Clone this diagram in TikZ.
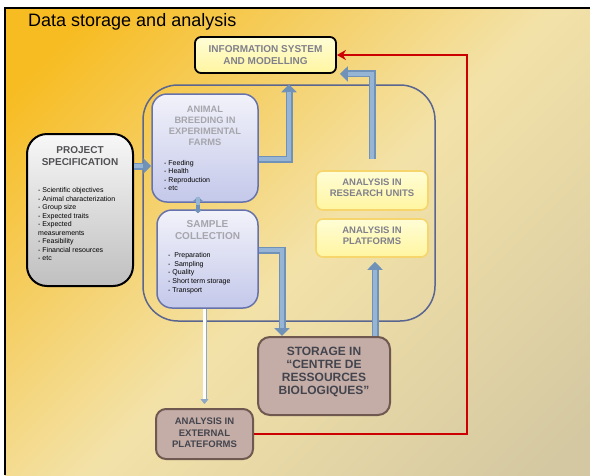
\documentclass[tikz,border=0pt]{standalone}
\usepackage{fontspec}
\setmainfont{Liberation Sans}
\usepackage{tikz}
\usetikzlibrary{arrows.meta, positioning, calc}

\definecolor{orange1}{RGB}{247, 188, 34}
\definecolor{cream1}{RGB}{243, 226, 168}
\definecolor{beige1}{RGB}{212, 200, 162}
\definecolor{grey1}{RGB}{128, 128, 140}
\definecolor{grey2}{RGB}{165, 165, 172}
\definecolor{grey3}{RGB}{80, 80, 84}
\definecolor{grey4}{RGB}{68, 68, 78}
\definecolor{lilac1}{RGB}{242, 242, 250}
\definecolor{lilac2}{RGB}{196, 200, 234}
\definecolor{lilac3}{RGB}{102, 114, 172}
\definecolor{slate1}{RGB}{90, 102, 144}
\definecolor{yellow1}{RGB}{255, 253, 214}
\definecolor{yellow2}{RGB}{255, 245, 160}
\definecolor{yellow3}{RGB}{246, 214, 108}
\definecolor{taupe1}{RGB}{195, 173, 166}
\definecolor{taupe2}{RGB}{110, 88, 80}
\definecolor{steel1}{RGB}{112, 146, 184}
\definecolor{steel2}{RGB}{150, 180, 212}
\definecolor{red1}{RGB}{204, 0, 0}

\tikzset{
  infobox/.style={draw=black, line width=1.8pt, top color=yellow1, bottom color=yellow2,
    rounded corners=6pt, inner sep=0pt},
  unitbox/.style={draw=yellow3, line width=1.6pt, top color=yellow1, bottom color=yellow2,
    rounded corners=7pt, inner sep=0pt, minimum width=112pt},
  labbox/.style={draw=lilac3, line width=1.5pt, top color=lilac1, bottom color=lilac2,
    rounded corners=15pt, inner sep=0pt},
  specbox/.style={draw=black, line width=2pt, top color=gray!6, bottom color=gray!50,
    rounded corners=20pt, inner sep=0pt},
  storebox/.style={draw=taupe2, line width=2pt, fill=taupe1, rounded corners=12pt, inner sep=0pt},
  boxtitle/.style 2 args={font=\bfseries\fontsize{#1}{#2}\selectfont, align=center, inner sep=0pt},
  boxlist/.style={font=\fontsize{7}{8.6}\selectfont, align=left, inner sep=0pt, anchor=west},
  flowarrow/.style={draw=steel1, line width=7pt, -{Triangle[width=15pt, length=8pt]},
    postaction={draw=steel2, line width=3.5pt, arrows=-, shorten >=8pt}},
  thinarrow/.style={draw=steel1!80, line width=0.8pt, double=white, double distance=2.4pt,
    -{Triangle[width=8pt, length=5pt]}},
  redline/.style={draw=red1, line width=2.5pt, -{Stealth[width=10pt, length=9pt]}}
}

\begin{document}
\begin{tikzpicture}[x=1pt, y=-1pt]
  \useasboundingbox (0,0) rectangle (590,475);
  % background and frame
  \begin{scope}
    \clip (5,8) rectangle (590,475);
    \shade[top color=orange1, bottom color=beige1, middle color=cream1, shading angle=45]
      (-30,-60) rectangle (620,590);
  \end{scope}
  \draw[line width=2pt] (5,475) -- (5,8) -- (590,8);
  \node[anchor=west, inner sep=0pt, font=\fontsize{18}{20}\selectfont] (title) at (28,22)
    {Data storage and analysis};

  % boxes
  \node[infobox, minimum width=141pt, minimum height=36pt] (info) at (265.5,55) {};
  \node[boxtitle={10}{11.7}, text=grey1] (infotext) at (265.5,55) {INFORMATION SYSTEM\\AND MODELLING};

  \node[draw=slate1, line width=1.5pt, rounded corners=35pt, inner sep=0pt,
    minimum width=292pt, minimum height=236pt] (lab) at (289,203) {};

  \node[specbox, minimum width=106pt, minimum height=152pt] (spec) at (80,210) {};
  \node[boxtitle={10}{11.7}, text=grey3] (spectitle) at (80,156) {PROJECT\\SPECIFICATION};
  \node[boxlist, font=\fontsize{7}{8.5}\selectfont] (speclist) at (38,224)
    {- Scientific objectives\\- Animal characterization\\- Group size\\- Expected traits\\
     - Expected\\measurements\\- Feasibility\\- Financial resources\\- etc};

  \node[labbox, minimum width=106pt, minimum height=108pt] (breed) at (205,148) {};
  \node[boxtitle={9.3}{11}, text=grey2] (breedtitle) at (205,125.5)
    {ANIMAL\\BREEDING IN\\EXPERIMENTAL\\FARMS};
  \node[boxlist] (breedlist) at (164,175.5) {- Feeding\\- Health\\- Reproduction\\- etc};

  \node[labbox, minimum width=101pt, minimum height=98pt] (sample) at (207.5,259) {};
  \node[boxtitle={10}{11.7}, text=grey2] (sampletitle) at (207.5,230) {SAMPLE\\COLLECTION};
  \node[boxlist, font=\fontsize{7}{8.8}\selectfont] (samplelist) at (168,273)
    {-~ Preparation\\-~ Sampling\\- Quality\\- Short term storage\\- Transport};

  \node[unitbox, minimum height=39pt] (units) at (372,190.5) {};
  \node[boxtitle={9.5}{11}, text=grey1] (unitstext) at (372,188) {ANALYSIS IN\\RESEARCH UNITS};
  \node[unitbox, minimum height=38pt] (plat) at (372,238) {};
  \node[boxtitle={9.5}{11}, text=grey1] (plattext) at (372,236) {ANALYSIS IN\\PLATFORMS};

  \node[storebox, minimum width=132pt, minimum height=78pt] (store) at (324,376) {};
  \node[boxtitle={12}{13}, text=grey4] (storetext) at (324,372)
    {STORAGE IN\\“CENTRE DE\\RESSOURCES\\BIOLOGIQUES”};

  \node[storebox, rounded corners=10pt, minimum width=97pt, minimum height=50pt] (ext) at (204.5,434) {};
  \node[boxtitle={9.5}{11.6}, text=grey4] (exttext) at (204.5,433)
    {ANALYSIS IN\\EXTERNAL\\PLATEFORMS};

  % connectors
  \coordinate (specout) at ([yshift=-18pt]breed.west);
  \draw[flowarrow] (spec.east |- specout) -- (specout);
  \draw[flowarrow, line width=4pt, {Triangle[width=9pt, length=4pt]}-{Triangle[width=9pt, length=4pt]},
    postaction={draw=none}] ([xshift=-7pt, yshift=6pt]breed.south) -- ([xshift=-9.5pt, yshift=-4pt]sample.north);
  \draw[flowarrow] ([yshift=-11pt]breed.east) -| (lab.north);
  \draw[flowarrow] ([yshift=11pt]units.north) |- ([xshift=3pt]info.south east);
  \draw[flowarrow] ([yshift=9pt]sample.east) -| ([xshift=25pt]store.north west);
  \coordinate (storeout) at ([xshift=-16pt]store.north east);
  \draw[flowarrow] (storeout) -- ([yshift=-4pt]storeout |- plat.south);
  \draw[thinarrow] (ext.north |- sample.south) -- ([yshift=4pt]ext.north);
  \coordinate (redturn) at (467,55);
  \draw[redline] (ext.east) -| (redturn) -- (info.east);
\end{tikzpicture}
\end{document}
